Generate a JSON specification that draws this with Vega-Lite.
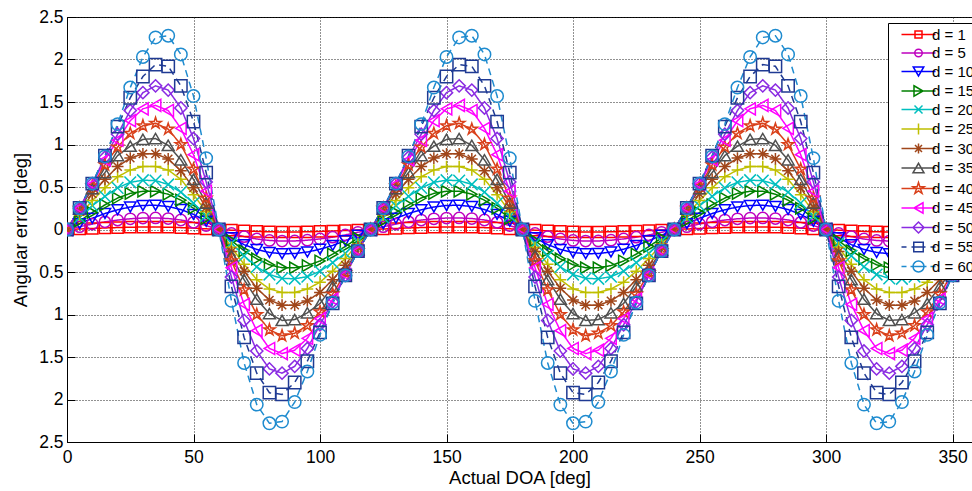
{
"$schema": "https://vega.github.io/schema/vega-lite/v6.json",
"width": 905,
"height": 425,
"autosize": {"type": "none"},
"padding": {"left": 67, "top": 17, "right": 0, "bottom": 49},
"background": "white",
"config": {
  "view": {"stroke": "black", "strokeWidth": 1},
  "font": "Liberation Sans",
  "axis": {"domainColor": "black", "domainWidth": 1, "tickColor": "black", "labelColor": "black", "titleColor": "black", "labelFont": "Liberation Sans", "titleFont": "Liberation Sans", "labelFontSize": 17.5, "titleFontSize": 18.5, "titleFontWeight": "normal", "gridColor": "#222222", "gridDash": [1, 2], "gridOpacity": 1, "gridWidth": 1, "tickSize": -8, "tickWidth": 1}
},
"data": {"values": [
{"x":0,"d":1,"y":0},{"x":5,"d":1,"y":0.006},{"x":10,"d":1,"y":0.012},{"x":15,"d":1,"y":0.018},{"x":20,"d":1,"y":0.023},{"x":25,"d":1,"y":0.027},{"x":30,"d":1,"y":0.029},{"x":35,"d":1,"y":0.029},{"x":40,"d":1,"y":0.027},{"x":45,"d":1,"y":0.022},{"x":50,"d":1,"y":0.016},{"x":55,"d":1,"y":0.008},{"x":60,"d":1,"y":0},{"x":65,"d":1,"y":-0.008},{"x":70,"d":1,"y":-0.016},{"x":75,"d":1,"y":-0.022},{"x":80,"d":1,"y":-0.027},{"x":85,"d":1,"y":-0.029},{"x":90,"d":1,"y":-0.029},{"x":95,"d":1,"y":-0.027},{"x":100,"d":1,"y":-0.023},{"x":105,"d":1,"y":-0.018},{"x":110,"d":1,"y":-0.012},{"x":115,"d":1,"y":-0.006},
{"x":120,"d":1,"y":0},{"x":125,"d":1,"y":0.006},{"x":130,"d":1,"y":0.012},{"x":135,"d":1,"y":0.018},{"x":140,"d":1,"y":0.023},{"x":145,"d":1,"y":0.027},{"x":150,"d":1,"y":0.029},{"x":155,"d":1,"y":0.029},{"x":160,"d":1,"y":0.027},{"x":165,"d":1,"y":0.022},{"x":170,"d":1,"y":0.016},{"x":175,"d":1,"y":0.008},{"x":180,"d":1,"y":0},{"x":185,"d":1,"y":-0.008},{"x":190,"d":1,"y":-0.016},{"x":195,"d":1,"y":-0.022},{"x":200,"d":1,"y":-0.027},{"x":205,"d":1,"y":-0.029},{"x":210,"d":1,"y":-0.029},{"x":215,"d":1,"y":-0.027},{"x":220,"d":1,"y":-0.023},{"x":225,"d":1,"y":-0.018},{"x":230,"d":1,"y":-0.012},{"x":235,"d":1,"y":-0.006},
{"x":240,"d":1,"y":0},{"x":245,"d":1,"y":0.006},{"x":250,"d":1,"y":0.012},{"x":255,"d":1,"y":0.018},{"x":260,"d":1,"y":0.023},{"x":265,"d":1,"y":0.027},{"x":270,"d":1,"y":0.029},{"x":275,"d":1,"y":0.029},{"x":280,"d":1,"y":0.027},{"x":285,"d":1,"y":0.022},{"x":290,"d":1,"y":0.016},{"x":295,"d":1,"y":0.008},{"x":300,"d":1,"y":0},{"x":305,"d":1,"y":-0.008},{"x":310,"d":1,"y":-0.016},{"x":315,"d":1,"y":-0.022},{"x":320,"d":1,"y":-0.027},{"x":325,"d":1,"y":-0.029},{"x":330,"d":1,"y":-0.029},{"x":335,"d":1,"y":-0.027},{"x":340,"d":1,"y":-0.023},{"x":345,"d":1,"y":-0.018},{"x":350,"d":1,"y":-0.012},{"x":355,"d":1,"y":-0.006},{"x":360,"d":1,"y":0},
{"x":0,"d":5,"y":0},{"x":5,"d":5,"y":0.033},{"x":10,"d":5,"y":0.064},{"x":15,"d":5,"y":0.09},{"x":20,"d":5,"y":0.111},{"x":25,"d":5,"y":0.126},{"x":30,"d":5,"y":0.135},{"x":35,"d":5,"y":0.136},{"x":40,"d":5,"y":0.129},{"x":45,"d":5,"y":0.112},{"x":50,"d":5,"y":0.084},{"x":55,"d":5,"y":0.046},{"x":60,"d":5,"y":0},{"x":65,"d":5,"y":-0.046},{"x":70,"d":5,"y":-0.084},{"x":75,"d":5,"y":-0.112},{"x":80,"d":5,"y":-0.129},{"x":85,"d":5,"y":-0.136},{"x":90,"d":5,"y":-0.135},{"x":95,"d":5,"y":-0.126},{"x":100,"d":5,"y":-0.111},{"x":105,"d":5,"y":-0.09},{"x":110,"d":5,"y":-0.064},{"x":115,"d":5,"y":-0.033},
{"x":120,"d":5,"y":0},{"x":125,"d":5,"y":0.033},{"x":130,"d":5,"y":0.064},{"x":135,"d":5,"y":0.09},{"x":140,"d":5,"y":0.111},{"x":145,"d":5,"y":0.126},{"x":150,"d":5,"y":0.135},{"x":155,"d":5,"y":0.136},{"x":160,"d":5,"y":0.129},{"x":165,"d":5,"y":0.112},{"x":170,"d":5,"y":0.084},{"x":175,"d":5,"y":0.046},{"x":180,"d":5,"y":0},{"x":185,"d":5,"y":-0.046},{"x":190,"d":5,"y":-0.084},{"x":195,"d":5,"y":-0.112},{"x":200,"d":5,"y":-0.129},{"x":205,"d":5,"y":-0.136},{"x":210,"d":5,"y":-0.135},{"x":215,"d":5,"y":-0.126},{"x":220,"d":5,"y":-0.111},{"x":225,"d":5,"y":-0.09},{"x":230,"d":5,"y":-0.064},{"x":235,"d":5,"y":-0.033},
{"x":240,"d":5,"y":0},{"x":245,"d":5,"y":0.033},{"x":250,"d":5,"y":0.064},{"x":255,"d":5,"y":0.09},{"x":260,"d":5,"y":0.111},{"x":265,"d":5,"y":0.126},{"x":270,"d":5,"y":0.135},{"x":275,"d":5,"y":0.136},{"x":280,"d":5,"y":0.129},{"x":285,"d":5,"y":0.112},{"x":290,"d":5,"y":0.084},{"x":295,"d":5,"y":0.046},{"x":300,"d":5,"y":0},{"x":305,"d":5,"y":-0.046},{"x":310,"d":5,"y":-0.084},{"x":315,"d":5,"y":-0.112},{"x":320,"d":5,"y":-0.129},{"x":325,"d":5,"y":-0.136},{"x":330,"d":5,"y":-0.135},{"x":335,"d":5,"y":-0.126},{"x":340,"d":5,"y":-0.111},{"x":345,"d":5,"y":-0.09},{"x":350,"d":5,"y":-0.064},{"x":355,"d":5,"y":-0.033},{"x":360,"d":5,"y":0},
{"x":0,"d":10,"y":0},{"x":5,"d":10,"y":0.068},{"x":10,"d":10,"y":0.132},{"x":15,"d":10,"y":0.188},{"x":20,"d":10,"y":0.232},{"x":25,"d":10,"y":0.265},{"x":30,"d":10,"y":0.283},{"x":35,"d":10,"y":0.285},{"x":40,"d":10,"y":0.27},{"x":45,"d":10,"y":0.235},{"x":50,"d":10,"y":0.178},{"x":55,"d":10,"y":0.097},{"x":60,"d":10,"y":0},{"x":65,"d":10,"y":-0.097},{"x":70,"d":10,"y":-0.178},{"x":75,"d":10,"y":-0.235},{"x":80,"d":10,"y":-0.27},{"x":85,"d":10,"y":-0.285},{"x":90,"d":10,"y":-0.283},{"x":95,"d":10,"y":-0.265},{"x":100,"d":10,"y":-0.232},{"x":105,"d":10,"y":-0.188},{"x":110,"d":10,"y":-0.132},{"x":115,"d":10,"y":-0.068},
{"x":120,"d":10,"y":0},{"x":125,"d":10,"y":0.068},{"x":130,"d":10,"y":0.132},{"x":135,"d":10,"y":0.188},{"x":140,"d":10,"y":0.232},{"x":145,"d":10,"y":0.265},{"x":150,"d":10,"y":0.283},{"x":155,"d":10,"y":0.285},{"x":160,"d":10,"y":0.27},{"x":165,"d":10,"y":0.235},{"x":170,"d":10,"y":0.178},{"x":175,"d":10,"y":0.097},{"x":180,"d":10,"y":0},{"x":185,"d":10,"y":-0.097},{"x":190,"d":10,"y":-0.178},{"x":195,"d":10,"y":-0.235},{"x":200,"d":10,"y":-0.27},{"x":205,"d":10,"y":-0.285},{"x":210,"d":10,"y":-0.283},{"x":215,"d":10,"y":-0.265},{"x":220,"d":10,"y":-0.232},{"x":225,"d":10,"y":-0.188},{"x":230,"d":10,"y":-0.132},{"x":235,"d":10,"y":-0.068},
{"x":240,"d":10,"y":0},{"x":245,"d":10,"y":0.068},{"x":250,"d":10,"y":0.132},{"x":255,"d":10,"y":0.188},{"x":260,"d":10,"y":0.232},{"x":265,"d":10,"y":0.265},{"x":270,"d":10,"y":0.283},{"x":275,"d":10,"y":0.285},{"x":280,"d":10,"y":0.27},{"x":285,"d":10,"y":0.235},{"x":290,"d":10,"y":0.178},{"x":295,"d":10,"y":0.097},{"x":300,"d":10,"y":0},{"x":305,"d":10,"y":-0.097},{"x":310,"d":10,"y":-0.178},{"x":315,"d":10,"y":-0.235},{"x":320,"d":10,"y":-0.27},{"x":325,"d":10,"y":-0.285},{"x":330,"d":10,"y":-0.283},{"x":335,"d":10,"y":-0.265},{"x":340,"d":10,"y":-0.232},{"x":345,"d":10,"y":-0.188},{"x":350,"d":10,"y":-0.132},{"x":355,"d":10,"y":-0.068},{"x":360,"d":10,"y":0},
{"x":0,"d":15,"y":0},{"x":5,"d":15,"y":0.1},{"x":10,"d":15,"y":0.2},{"x":15,"d":15,"y":0.29},{"x":20,"d":15,"y":0.37},{"x":25,"d":15,"y":0.425},{"x":30,"d":15,"y":0.45},{"x":35,"d":15,"y":0.45},{"x":40,"d":15,"y":0.415},{"x":45,"d":15,"y":0.345},{"x":50,"d":15,"y":0.25},{"x":55,"d":15,"y":0.13},{"x":60,"d":15,"y":0},{"x":65,"d":15,"y":-0.13},{"x":70,"d":15,"y":-0.25},{"x":75,"d":15,"y":-0.345},{"x":80,"d":15,"y":-0.415},{"x":85,"d":15,"y":-0.45},{"x":90,"d":15,"y":-0.45},{"x":95,"d":15,"y":-0.425},{"x":100,"d":15,"y":-0.37},{"x":105,"d":15,"y":-0.29},{"x":110,"d":15,"y":-0.2},{"x":115,"d":15,"y":-0.1},
{"x":120,"d":15,"y":0},{"x":125,"d":15,"y":0.1},{"x":130,"d":15,"y":0.2},{"x":135,"d":15,"y":0.29},{"x":140,"d":15,"y":0.37},{"x":145,"d":15,"y":0.425},{"x":150,"d":15,"y":0.45},{"x":155,"d":15,"y":0.45},{"x":160,"d":15,"y":0.415},{"x":165,"d":15,"y":0.345},{"x":170,"d":15,"y":0.25},{"x":175,"d":15,"y":0.13},{"x":180,"d":15,"y":0},{"x":185,"d":15,"y":-0.13},{"x":190,"d":15,"y":-0.25},{"x":195,"d":15,"y":-0.345},{"x":200,"d":15,"y":-0.415},{"x":205,"d":15,"y":-0.45},{"x":210,"d":15,"y":-0.45},{"x":215,"d":15,"y":-0.425},{"x":220,"d":15,"y":-0.37},{"x":225,"d":15,"y":-0.29},{"x":230,"d":15,"y":-0.2},{"x":235,"d":15,"y":-0.1},
{"x":240,"d":15,"y":0},{"x":245,"d":15,"y":0.1},{"x":250,"d":15,"y":0.2},{"x":255,"d":15,"y":0.29},{"x":260,"d":15,"y":0.37},{"x":265,"d":15,"y":0.425},{"x":270,"d":15,"y":0.45},{"x":275,"d":15,"y":0.45},{"x":280,"d":15,"y":0.415},{"x":285,"d":15,"y":0.345},{"x":290,"d":15,"y":0.25},{"x":295,"d":15,"y":0.13},{"x":300,"d":15,"y":0},{"x":305,"d":15,"y":-0.13},{"x":310,"d":15,"y":-0.25},{"x":315,"d":15,"y":-0.345},{"x":320,"d":15,"y":-0.415},{"x":325,"d":15,"y":-0.45},{"x":330,"d":15,"y":-0.45},{"x":335,"d":15,"y":-0.425},{"x":340,"d":15,"y":-0.37},{"x":345,"d":15,"y":-0.29},{"x":350,"d":15,"y":-0.2},{"x":355,"d":15,"y":-0.1},{"x":360,"d":15,"y":0},
{"x":0,"d":20,"y":0},{"x":5,"d":20,"y":0.14},{"x":10,"d":20,"y":0.28},{"x":15,"d":20,"y":0.39},{"x":20,"d":20,"y":0.49},{"x":25,"d":20,"y":0.555},{"x":30,"d":20,"y":0.58},{"x":35,"d":20,"y":0.575},{"x":40,"d":20,"y":0.53},{"x":45,"d":20,"y":0.44},{"x":50,"d":20,"y":0.31},{"x":55,"d":20,"y":0.16},{"x":60,"d":20,"y":0},{"x":65,"d":20,"y":-0.16},{"x":70,"d":20,"y":-0.31},{"x":75,"d":20,"y":-0.44},{"x":80,"d":20,"y":-0.53},{"x":85,"d":20,"y":-0.575},{"x":90,"d":20,"y":-0.58},{"x":95,"d":20,"y":-0.555},{"x":100,"d":20,"y":-0.49},{"x":105,"d":20,"y":-0.39},{"x":110,"d":20,"y":-0.28},{"x":115,"d":20,"y":-0.14},
{"x":120,"d":20,"y":0},{"x":125,"d":20,"y":0.14},{"x":130,"d":20,"y":0.28},{"x":135,"d":20,"y":0.39},{"x":140,"d":20,"y":0.49},{"x":145,"d":20,"y":0.555},{"x":150,"d":20,"y":0.58},{"x":155,"d":20,"y":0.575},{"x":160,"d":20,"y":0.53},{"x":165,"d":20,"y":0.44},{"x":170,"d":20,"y":0.31},{"x":175,"d":20,"y":0.16},{"x":180,"d":20,"y":0},{"x":185,"d":20,"y":-0.16},{"x":190,"d":20,"y":-0.31},{"x":195,"d":20,"y":-0.44},{"x":200,"d":20,"y":-0.53},{"x":205,"d":20,"y":-0.575},{"x":210,"d":20,"y":-0.58},{"x":215,"d":20,"y":-0.555},{"x":220,"d":20,"y":-0.49},{"x":225,"d":20,"y":-0.39},{"x":230,"d":20,"y":-0.28},{"x":235,"d":20,"y":-0.14},
{"x":240,"d":20,"y":0},{"x":245,"d":20,"y":0.14},{"x":250,"d":20,"y":0.28},{"x":255,"d":20,"y":0.39},{"x":260,"d":20,"y":0.49},{"x":265,"d":20,"y":0.555},{"x":270,"d":20,"y":0.58},{"x":275,"d":20,"y":0.575},{"x":280,"d":20,"y":0.53},{"x":285,"d":20,"y":0.44},{"x":290,"d":20,"y":0.31},{"x":295,"d":20,"y":0.16},{"x":300,"d":20,"y":0},{"x":305,"d":20,"y":-0.16},{"x":310,"d":20,"y":-0.31},{"x":315,"d":20,"y":-0.44},{"x":320,"d":20,"y":-0.53},{"x":325,"d":20,"y":-0.575},{"x":330,"d":20,"y":-0.58},{"x":335,"d":20,"y":-0.555},{"x":340,"d":20,"y":-0.49},{"x":345,"d":20,"y":-0.39},{"x":350,"d":20,"y":-0.28},{"x":355,"d":20,"y":-0.14},{"x":360,"d":20,"y":0},
{"x":0,"d":25,"y":0},{"x":5,"d":25,"y":0.17},{"x":10,"d":25,"y":0.34},{"x":15,"d":25,"y":0.49},{"x":20,"d":25,"y":0.62},{"x":25,"d":25,"y":0.7},{"x":30,"d":25,"y":0.74},{"x":35,"d":25,"y":0.74},{"x":40,"d":25,"y":0.7},{"x":45,"d":25,"y":0.59},{"x":50,"d":25,"y":0.41},{"x":55,"d":25,"y":0.21},{"x":60,"d":25,"y":0},{"x":65,"d":25,"y":-0.21},{"x":70,"d":25,"y":-0.41},{"x":75,"d":25,"y":-0.59},{"x":80,"d":25,"y":-0.7},{"x":85,"d":25,"y":-0.74},{"x":90,"d":25,"y":-0.74},{"x":95,"d":25,"y":-0.7},{"x":100,"d":25,"y":-0.62},{"x":105,"d":25,"y":-0.49},{"x":110,"d":25,"y":-0.34},{"x":115,"d":25,"y":-0.17},
{"x":120,"d":25,"y":0},{"x":125,"d":25,"y":0.17},{"x":130,"d":25,"y":0.34},{"x":135,"d":25,"y":0.49},{"x":140,"d":25,"y":0.62},{"x":145,"d":25,"y":0.7},{"x":150,"d":25,"y":0.74},{"x":155,"d":25,"y":0.74},{"x":160,"d":25,"y":0.7},{"x":165,"d":25,"y":0.59},{"x":170,"d":25,"y":0.41},{"x":175,"d":25,"y":0.21},{"x":180,"d":25,"y":0},{"x":185,"d":25,"y":-0.21},{"x":190,"d":25,"y":-0.41},{"x":195,"d":25,"y":-0.59},{"x":200,"d":25,"y":-0.7},{"x":205,"d":25,"y":-0.74},{"x":210,"d":25,"y":-0.74},{"x":215,"d":25,"y":-0.7},{"x":220,"d":25,"y":-0.62},{"x":225,"d":25,"y":-0.49},{"x":230,"d":25,"y":-0.34},{"x":235,"d":25,"y":-0.17},
{"x":240,"d":25,"y":0},{"x":245,"d":25,"y":0.17},{"x":250,"d":25,"y":0.34},{"x":255,"d":25,"y":0.49},{"x":260,"d":25,"y":0.62},{"x":265,"d":25,"y":0.7},{"x":270,"d":25,"y":0.74},{"x":275,"d":25,"y":0.74},{"x":280,"d":25,"y":0.7},{"x":285,"d":25,"y":0.59},{"x":290,"d":25,"y":0.41},{"x":295,"d":25,"y":0.21},{"x":300,"d":25,"y":0},{"x":305,"d":25,"y":-0.21},{"x":310,"d":25,"y":-0.41},{"x":315,"d":25,"y":-0.59},{"x":320,"d":25,"y":-0.7},{"x":325,"d":25,"y":-0.74},{"x":330,"d":25,"y":-0.74},{"x":335,"d":25,"y":-0.7},{"x":340,"d":25,"y":-0.62},{"x":345,"d":25,"y":-0.49},{"x":350,"d":25,"y":-0.34},{"x":355,"d":25,"y":-0.17},{"x":360,"d":25,"y":0},
{"x":0,"d":30,"y":0},{"x":5,"d":30,"y":0.21},{"x":10,"d":30,"y":0.42},{"x":15,"d":30,"y":0.59},{"x":20,"d":30,"y":0.74},{"x":25,"d":30,"y":0.84},{"x":30,"d":30,"y":0.89},{"x":35,"d":30,"y":0.89},{"x":40,"d":30,"y":0.83},{"x":45,"d":30,"y":0.69},{"x":50,"d":30,"y":0.49},{"x":55,"d":30,"y":0.26},{"x":60,"d":30,"y":0},{"x":65,"d":30,"y":-0.26},{"x":70,"d":30,"y":-0.49},{"x":75,"d":30,"y":-0.69},{"x":80,"d":30,"y":-0.83},{"x":85,"d":30,"y":-0.89},{"x":90,"d":30,"y":-0.89},{"x":95,"d":30,"y":-0.84},{"x":100,"d":30,"y":-0.74},{"x":105,"d":30,"y":-0.59},{"x":110,"d":30,"y":-0.42},{"x":115,"d":30,"y":-0.21},
{"x":120,"d":30,"y":0},{"x":125,"d":30,"y":0.21},{"x":130,"d":30,"y":0.42},{"x":135,"d":30,"y":0.59},{"x":140,"d":30,"y":0.74},{"x":145,"d":30,"y":0.84},{"x":150,"d":30,"y":0.89},{"x":155,"d":30,"y":0.89},{"x":160,"d":30,"y":0.83},{"x":165,"d":30,"y":0.69},{"x":170,"d":30,"y":0.49},{"x":175,"d":30,"y":0.26},{"x":180,"d":30,"y":0},{"x":185,"d":30,"y":-0.26},{"x":190,"d":30,"y":-0.49},{"x":195,"d":30,"y":-0.69},{"x":200,"d":30,"y":-0.83},{"x":205,"d":30,"y":-0.89},{"x":210,"d":30,"y":-0.89},{"x":215,"d":30,"y":-0.84},{"x":220,"d":30,"y":-0.74},{"x":225,"d":30,"y":-0.59},{"x":230,"d":30,"y":-0.42},{"x":235,"d":30,"y":-0.21},
{"x":240,"d":30,"y":0},{"x":245,"d":30,"y":0.21},{"x":250,"d":30,"y":0.42},{"x":255,"d":30,"y":0.59},{"x":260,"d":30,"y":0.74},{"x":265,"d":30,"y":0.84},{"x":270,"d":30,"y":0.89},{"x":275,"d":30,"y":0.89},{"x":280,"d":30,"y":0.83},{"x":285,"d":30,"y":0.69},{"x":290,"d":30,"y":0.49},{"x":295,"d":30,"y":0.26},{"x":300,"d":30,"y":0},{"x":305,"d":30,"y":-0.26},{"x":310,"d":30,"y":-0.49},{"x":315,"d":30,"y":-0.69},{"x":320,"d":30,"y":-0.83},{"x":325,"d":30,"y":-0.89},{"x":330,"d":30,"y":-0.89},{"x":335,"d":30,"y":-0.84},{"x":340,"d":30,"y":-0.74},{"x":345,"d":30,"y":-0.59},{"x":350,"d":30,"y":-0.42},{"x":355,"d":30,"y":-0.21},{"x":360,"d":30,"y":0},
{"x":0,"d":35,"y":0},{"x":5,"d":35,"y":0.24},{"x":10,"d":35,"y":0.48},{"x":15,"d":35,"y":0.67},{"x":20,"d":35,"y":0.87},{"x":25,"d":35,"y":0.98},{"x":30,"d":35,"y":1.06},{"x":35,"d":35,"y":1.07},{"x":40,"d":35,"y":0.99},{"x":45,"d":35,"y":0.82},{"x":50,"d":35,"y":0.59},{"x":55,"d":35,"y":0.31},{"x":60,"d":35,"y":0},{"x":65,"d":35,"y":-0.31},{"x":70,"d":35,"y":-0.59},{"x":75,"d":35,"y":-0.82},{"x":80,"d":35,"y":-0.99},{"x":85,"d":35,"y":-1.07},{"x":90,"d":35,"y":-1.06},{"x":95,"d":35,"y":-0.98},{"x":100,"d":35,"y":-0.87},{"x":105,"d":35,"y":-0.67},{"x":110,"d":35,"y":-0.48},{"x":115,"d":35,"y":-0.24},
{"x":120,"d":35,"y":0},{"x":125,"d":35,"y":0.24},{"x":130,"d":35,"y":0.48},{"x":135,"d":35,"y":0.67},{"x":140,"d":35,"y":0.87},{"x":145,"d":35,"y":0.98},{"x":150,"d":35,"y":1.06},{"x":155,"d":35,"y":1.07},{"x":160,"d":35,"y":0.99},{"x":165,"d":35,"y":0.82},{"x":170,"d":35,"y":0.59},{"x":175,"d":35,"y":0.31},{"x":180,"d":35,"y":0},{"x":185,"d":35,"y":-0.31},{"x":190,"d":35,"y":-0.59},{"x":195,"d":35,"y":-0.82},{"x":200,"d":35,"y":-0.99},{"x":205,"d":35,"y":-1.07},{"x":210,"d":35,"y":-1.06},{"x":215,"d":35,"y":-0.98},{"x":220,"d":35,"y":-0.87},{"x":225,"d":35,"y":-0.67},{"x":230,"d":35,"y":-0.48},{"x":235,"d":35,"y":-0.24},
{"x":240,"d":35,"y":0},{"x":245,"d":35,"y":0.24},{"x":250,"d":35,"y":0.48},{"x":255,"d":35,"y":0.67},{"x":260,"d":35,"y":0.87},{"x":265,"d":35,"y":0.98},{"x":270,"d":35,"y":1.06},{"x":275,"d":35,"y":1.07},{"x":280,"d":35,"y":0.99},{"x":285,"d":35,"y":0.82},{"x":290,"d":35,"y":0.59},{"x":295,"d":35,"y":0.31},{"x":300,"d":35,"y":0},{"x":305,"d":35,"y":-0.31},{"x":310,"d":35,"y":-0.59},{"x":315,"d":35,"y":-0.82},{"x":320,"d":35,"y":-0.99},{"x":325,"d":35,"y":-1.07},{"x":330,"d":35,"y":-1.06},{"x":335,"d":35,"y":-0.98},{"x":340,"d":35,"y":-0.87},{"x":345,"d":35,"y":-0.67},{"x":350,"d":35,"y":-0.48},{"x":355,"d":35,"y":-0.24},{"x":360,"d":35,"y":0},
{"x":0,"d":40,"y":0},{"x":5,"d":40,"y":0.25},{"x":10,"d":40,"y":0.51},{"x":15,"d":40,"y":0.76},{"x":20,"d":40,"y":0.97},{"x":25,"d":40,"y":1.13},{"x":30,"d":40,"y":1.22},{"x":35,"d":40,"y":1.25},{"x":40,"d":40,"y":1.18},{"x":45,"d":40,"y":1},{"x":50,"d":40,"y":0.71},{"x":55,"d":40,"y":0.37},{"x":60,"d":40,"y":0},{"x":65,"d":40,"y":-0.37},{"x":70,"d":40,"y":-0.71},{"x":75,"d":40,"y":-1},{"x":80,"d":40,"y":-1.18},{"x":85,"d":40,"y":-1.25},{"x":90,"d":40,"y":-1.22},{"x":95,"d":40,"y":-1.13},{"x":100,"d":40,"y":-0.97},{"x":105,"d":40,"y":-0.76},{"x":110,"d":40,"y":-0.51},{"x":115,"d":40,"y":-0.25},
{"x":120,"d":40,"y":0},{"x":125,"d":40,"y":0.25},{"x":130,"d":40,"y":0.51},{"x":135,"d":40,"y":0.76},{"x":140,"d":40,"y":0.97},{"x":145,"d":40,"y":1.13},{"x":150,"d":40,"y":1.22},{"x":155,"d":40,"y":1.25},{"x":160,"d":40,"y":1.18},{"x":165,"d":40,"y":1},{"x":170,"d":40,"y":0.71},{"x":175,"d":40,"y":0.37},{"x":180,"d":40,"y":0},{"x":185,"d":40,"y":-0.37},{"x":190,"d":40,"y":-0.71},{"x":195,"d":40,"y":-1},{"x":200,"d":40,"y":-1.18},{"x":205,"d":40,"y":-1.25},{"x":210,"d":40,"y":-1.22},{"x":215,"d":40,"y":-1.13},{"x":220,"d":40,"y":-0.97},{"x":225,"d":40,"y":-0.76},{"x":230,"d":40,"y":-0.51},{"x":235,"d":40,"y":-0.25},
{"x":240,"d":40,"y":0},{"x":245,"d":40,"y":0.25},{"x":250,"d":40,"y":0.51},{"x":255,"d":40,"y":0.76},{"x":260,"d":40,"y":0.97},{"x":265,"d":40,"y":1.13},{"x":270,"d":40,"y":1.22},{"x":275,"d":40,"y":1.25},{"x":280,"d":40,"y":1.18},{"x":285,"d":40,"y":1},{"x":290,"d":40,"y":0.71},{"x":295,"d":40,"y":0.37},{"x":300,"d":40,"y":0},{"x":305,"d":40,"y":-0.37},{"x":310,"d":40,"y":-0.71},{"x":315,"d":40,"y":-1},{"x":320,"d":40,"y":-1.18},{"x":325,"d":40,"y":-1.25},{"x":330,"d":40,"y":-1.22},{"x":335,"d":40,"y":-1.13},{"x":340,"d":40,"y":-0.97},{"x":345,"d":40,"y":-0.76},{"x":350,"d":40,"y":-0.51},{"x":355,"d":40,"y":-0.25},{"x":360,"d":40,"y":0},
{"x":0,"d":45,"y":0},{"x":5,"d":45,"y":0.25},{"x":10,"d":45,"y":0.53},{"x":15,"d":45,"y":0.82},{"x":20,"d":45,"y":1.05},{"x":25,"d":45,"y":1.28},{"x":30,"d":45,"y":1.42},{"x":35,"d":45,"y":1.46},{"x":40,"d":45,"y":1.4},{"x":45,"d":45,"y":1.19},{"x":50,"d":45,"y":0.88},{"x":55,"d":45,"y":0.45},{"x":60,"d":45,"y":0},{"x":65,"d":45,"y":-0.45},{"x":70,"d":45,"y":-0.88},{"x":75,"d":45,"y":-1.19},{"x":80,"d":45,"y":-1.4},{"x":85,"d":45,"y":-1.46},{"x":90,"d":45,"y":-1.42},{"x":95,"d":45,"y":-1.28},{"x":100,"d":45,"y":-1.05},{"x":105,"d":45,"y":-0.82},{"x":110,"d":45,"y":-0.53},{"x":115,"d":45,"y":-0.25},
{"x":120,"d":45,"y":0},{"x":125,"d":45,"y":0.25},{"x":130,"d":45,"y":0.53},{"x":135,"d":45,"y":0.82},{"x":140,"d":45,"y":1.05},{"x":145,"d":45,"y":1.28},{"x":150,"d":45,"y":1.42},{"x":155,"d":45,"y":1.46},{"x":160,"d":45,"y":1.4},{"x":165,"d":45,"y":1.19},{"x":170,"d":45,"y":0.88},{"x":175,"d":45,"y":0.45},{"x":180,"d":45,"y":0},{"x":185,"d":45,"y":-0.45},{"x":190,"d":45,"y":-0.88},{"x":195,"d":45,"y":-1.19},{"x":200,"d":45,"y":-1.4},{"x":205,"d":45,"y":-1.46},{"x":210,"d":45,"y":-1.42},{"x":215,"d":45,"y":-1.28},{"x":220,"d":45,"y":-1.05},{"x":225,"d":45,"y":-0.82},{"x":230,"d":45,"y":-0.53},{"x":235,"d":45,"y":-0.25},
{"x":240,"d":45,"y":0},{"x":245,"d":45,"y":0.25},{"x":250,"d":45,"y":0.53},{"x":255,"d":45,"y":0.82},{"x":260,"d":45,"y":1.05},{"x":265,"d":45,"y":1.28},{"x":270,"d":45,"y":1.42},{"x":275,"d":45,"y":1.46},{"x":280,"d":45,"y":1.4},{"x":285,"d":45,"y":1.19},{"x":290,"d":45,"y":0.88},{"x":295,"d":45,"y":0.45},{"x":300,"d":45,"y":0},{"x":305,"d":45,"y":-0.45},{"x":310,"d":45,"y":-0.88},{"x":315,"d":45,"y":-1.19},{"x":320,"d":45,"y":-1.4},{"x":325,"d":45,"y":-1.46},{"x":330,"d":45,"y":-1.42},{"x":335,"d":45,"y":-1.28},{"x":340,"d":45,"y":-1.05},{"x":345,"d":45,"y":-0.82},{"x":350,"d":45,"y":-0.53},{"x":355,"d":45,"y":-0.25},{"x":360,"d":45,"y":0},
{"x":0,"d":50,"y":0},{"x":5,"d":50,"y":0.25},{"x":10,"d":50,"y":0.54},{"x":15,"d":50,"y":0.85},{"x":20,"d":50,"y":1.12},{"x":25,"d":50,"y":1.4},{"x":30,"d":50,"y":1.61},{"x":35,"d":50,"y":1.69},{"x":40,"d":50,"y":1.64},{"x":45,"d":50,"y":1.43},{"x":50,"d":50,"y":1.07},{"x":55,"d":50,"y":0.56},{"x":60,"d":50,"y":0},{"x":65,"d":50,"y":-0.56},{"x":70,"d":50,"y":-1.07},{"x":75,"d":50,"y":-1.43},{"x":80,"d":50,"y":-1.64},{"x":85,"d":50,"y":-1.69},{"x":90,"d":50,"y":-1.61},{"x":95,"d":50,"y":-1.4},{"x":100,"d":50,"y":-1.12},{"x":105,"d":50,"y":-0.85},{"x":110,"d":50,"y":-0.54},{"x":115,"d":50,"y":-0.25},
{"x":120,"d":50,"y":0},{"x":125,"d":50,"y":0.25},{"x":130,"d":50,"y":0.54},{"x":135,"d":50,"y":0.85},{"x":140,"d":50,"y":1.12},{"x":145,"d":50,"y":1.4},{"x":150,"d":50,"y":1.61},{"x":155,"d":50,"y":1.69},{"x":160,"d":50,"y":1.64},{"x":165,"d":50,"y":1.43},{"x":170,"d":50,"y":1.07},{"x":175,"d":50,"y":0.56},{"x":180,"d":50,"y":0},{"x":185,"d":50,"y":-0.56},{"x":190,"d":50,"y":-1.07},{"x":195,"d":50,"y":-1.43},{"x":200,"d":50,"y":-1.64},{"x":205,"d":50,"y":-1.69},{"x":210,"d":50,"y":-1.61},{"x":215,"d":50,"y":-1.4},{"x":220,"d":50,"y":-1.12},{"x":225,"d":50,"y":-0.85},{"x":230,"d":50,"y":-0.54},{"x":235,"d":50,"y":-0.25},
{"x":240,"d":50,"y":0},{"x":245,"d":50,"y":0.25},{"x":250,"d":50,"y":0.54},{"x":255,"d":50,"y":0.85},{"x":260,"d":50,"y":1.12},{"x":265,"d":50,"y":1.4},{"x":270,"d":50,"y":1.61},{"x":275,"d":50,"y":1.69},{"x":280,"d":50,"y":1.64},{"x":285,"d":50,"y":1.43},{"x":290,"d":50,"y":1.07},{"x":295,"d":50,"y":0.56},{"x":300,"d":50,"y":0},{"x":305,"d":50,"y":-0.56},{"x":310,"d":50,"y":-1.07},{"x":315,"d":50,"y":-1.43},{"x":320,"d":50,"y":-1.64},{"x":325,"d":50,"y":-1.69},{"x":330,"d":50,"y":-1.61},{"x":335,"d":50,"y":-1.4},{"x":340,"d":50,"y":-1.12},{"x":345,"d":50,"y":-0.85},{"x":350,"d":50,"y":-0.54},{"x":355,"d":50,"y":-0.25},{"x":360,"d":50,"y":0},
{"x":0,"d":55,"y":0},{"x":5,"d":55,"y":0.255},{"x":10,"d":55,"y":0.54},{"x":15,"d":55,"y":0.87},{"x":20,"d":55,"y":1.21},{"x":25,"d":55,"y":1.55},{"x":30,"d":55,"y":1.8},{"x":35,"d":55,"y":1.94},{"x":40,"d":55,"y":1.92},{"x":45,"d":55,"y":1.69},{"x":50,"d":55,"y":1.27},{"x":55,"d":55,"y":0.67},{"x":60,"d":55,"y":0},{"x":65,"d":55,"y":-0.67},{"x":70,"d":55,"y":-1.27},{"x":75,"d":55,"y":-1.69},{"x":80,"d":55,"y":-1.92},{"x":85,"d":55,"y":-1.94},{"x":90,"d":55,"y":-1.8},{"x":95,"d":55,"y":-1.55},{"x":100,"d":55,"y":-1.21},{"x":105,"d":55,"y":-0.87},{"x":110,"d":55,"y":-0.54},{"x":115,"d":55,"y":-0.255},
{"x":120,"d":55,"y":0},{"x":125,"d":55,"y":0.255},{"x":130,"d":55,"y":0.54},{"x":135,"d":55,"y":0.87},{"x":140,"d":55,"y":1.21},{"x":145,"d":55,"y":1.55},{"x":150,"d":55,"y":1.8},{"x":155,"d":55,"y":1.94},{"x":160,"d":55,"y":1.92},{"x":165,"d":55,"y":1.69},{"x":170,"d":55,"y":1.27},{"x":175,"d":55,"y":0.67},{"x":180,"d":55,"y":0},{"x":185,"d":55,"y":-0.67},{"x":190,"d":55,"y":-1.27},{"x":195,"d":55,"y":-1.69},{"x":200,"d":55,"y":-1.92},{"x":205,"d":55,"y":-1.94},{"x":210,"d":55,"y":-1.8},{"x":215,"d":55,"y":-1.55},{"x":220,"d":55,"y":-1.21},{"x":225,"d":55,"y":-0.87},{"x":230,"d":55,"y":-0.54},{"x":235,"d":55,"y":-0.255},
{"x":240,"d":55,"y":0},{"x":245,"d":55,"y":0.255},{"x":250,"d":55,"y":0.54},{"x":255,"d":55,"y":0.87},{"x":260,"d":55,"y":1.21},{"x":265,"d":55,"y":1.55},{"x":270,"d":55,"y":1.8},{"x":275,"d":55,"y":1.94},{"x":280,"d":55,"y":1.92},{"x":285,"d":55,"y":1.69},{"x":290,"d":55,"y":1.27},{"x":295,"d":55,"y":0.67},{"x":300,"d":55,"y":0},{"x":305,"d":55,"y":-0.67},{"x":310,"d":55,"y":-1.27},{"x":315,"d":55,"y":-1.69},{"x":320,"d":55,"y":-1.92},{"x":325,"d":55,"y":-1.94},{"x":330,"d":55,"y":-1.8},{"x":335,"d":55,"y":-1.55},{"x":340,"d":55,"y":-1.21},{"x":345,"d":55,"y":-0.87},{"x":350,"d":55,"y":-0.54},{"x":355,"d":55,"y":-0.255},{"x":360,"d":55,"y":0},
{"x":0,"d":60,"y":0},{"x":5,"d":60,"y":0.25},{"x":10,"d":60,"y":0.54},{"x":15,"d":60,"y":0.86},{"x":20,"d":60,"y":1.24},{"x":25,"d":60,"y":1.67},{"x":30,"d":60,"y":2.03},{"x":35,"d":60,"y":2.26},{"x":40,"d":60,"y":2.28},{"x":45,"d":60,"y":2.06},{"x":50,"d":60,"y":1.57},{"x":55,"d":60,"y":0.84},{"x":60,"d":60,"y":0},{"x":65,"d":60,"y":-0.84},{"x":70,"d":60,"y":-1.57},{"x":75,"d":60,"y":-2.06},{"x":80,"d":60,"y":-2.28},{"x":85,"d":60,"y":-2.26},{"x":90,"d":60,"y":-2.03},{"x":95,"d":60,"y":-1.67},{"x":100,"d":60,"y":-1.24},{"x":105,"d":60,"y":-0.86},{"x":110,"d":60,"y":-0.54},{"x":115,"d":60,"y":-0.25},
{"x":120,"d":60,"y":0},{"x":125,"d":60,"y":0.25},{"x":130,"d":60,"y":0.54},{"x":135,"d":60,"y":0.86},{"x":140,"d":60,"y":1.24},{"x":145,"d":60,"y":1.67},{"x":150,"d":60,"y":2.03},{"x":155,"d":60,"y":2.26},{"x":160,"d":60,"y":2.28},{"x":165,"d":60,"y":2.06},{"x":170,"d":60,"y":1.57},{"x":175,"d":60,"y":0.84},{"x":180,"d":60,"y":0},{"x":185,"d":60,"y":-0.84},{"x":190,"d":60,"y":-1.57},{"x":195,"d":60,"y":-2.06},{"x":200,"d":60,"y":-2.28},{"x":205,"d":60,"y":-2.26},{"x":210,"d":60,"y":-2.03},{"x":215,"d":60,"y":-1.67},{"x":220,"d":60,"y":-1.24},{"x":225,"d":60,"y":-0.86},{"x":230,"d":60,"y":-0.54},{"x":235,"d":60,"y":-0.25},
{"x":240,"d":60,"y":0},{"x":245,"d":60,"y":0.25},{"x":250,"d":60,"y":0.54},{"x":255,"d":60,"y":0.86},{"x":260,"d":60,"y":1.24},{"x":265,"d":60,"y":1.67},{"x":270,"d":60,"y":2.03},{"x":275,"d":60,"y":2.26},{"x":280,"d":60,"y":2.28},{"x":285,"d":60,"y":2.06},{"x":290,"d":60,"y":1.57},{"x":295,"d":60,"y":0.84},{"x":300,"d":60,"y":0},{"x":305,"d":60,"y":-0.84},{"x":310,"d":60,"y":-1.57},{"x":315,"d":60,"y":-2.06},{"x":320,"d":60,"y":-2.28},{"x":325,"d":60,"y":-2.26},{"x":330,"d":60,"y":-2.03},{"x":335,"d":60,"y":-1.67},{"x":340,"d":60,"y":-1.24},{"x":345,"d":60,"y":-0.86},{"x":350,"d":60,"y":-0.54},{"x":355,"d":60,"y":-0.25},{"x":360,"d":60,"y":0}
]},
"encoding": {
  "x": {"field": "x", "type": "quantitative", "scale": {"domain": [0, 357.7], "nice": false, "zero": false},
        "axis": {"values": [0, 50, 100, 150, 200, 250, 300, 350], "title": "Actual DOA [deg]", "grid": true, "labelPadding": 14, "titlePadding": 3, "labelFlush": false, "labelOverlap": false}},
  "y": {"field": "y", "type": "quantitative", "scale": {"domain": [-2.5, 2.5], "nice": false, "zero": false},
        "axis": {"values": [-2.5, -2, -1.5, -1, -0.5, 0, 0.5, 1, 1.5, 2, 2.5], "title": "Angular error [deg]", "grid": true, "labelPadding": 12, "titlePadding": 8, "labelFlush": false, "labelOverlap": false, "labelExpr": "format(abs(datum.value), '~g')"}},
  "color": {"field": "d", "type": "nominal",
    "scale": {"domain": [1, 5, 10, 15, 20, 25, 30, 35, 40, 45, 50, 55, 60],
              "range": ["#FF0000", "#BF00BF", "#0000FF", "#008000", "#00BFBF", "#BFBF00", "#A0461A", "#505050", "#D9401A", "#FF00FF", "#8A2BE2", "#1F3A93", "#1E8BCF"]},
    "legend": {"orient": "none", "legendX": 821, "legendY": 6, "title": null,
      "strokeColor": "black", "fillColor": "white", "padding": 4, "cornerRadius": 0,
      "symbolSize": 100, "symbolStrokeWidth": 1.5, "symbolOffset": 19, "symbolFillColor": "transparent", "symbolOpacity": 1,
      "labelOffset": 6, "labelFontSize": 15, "labelFont": "Liberation Sans", "labelColor": "black", "labelLimit": 200,
      "rowPadding": 2.5,
      "labelExpr": "'d = ' + datum.value",
      "symbolType": {"expr": "['M-3.4,0H3.4M-0.7,-0.7H0.7V0.7H-0.7Z','M-3.4,0H3.4M-0.75,0A0.75,0.75,0,1,0,0.75,0A0.75,0.75,0,1,0,-0.75,0Z','M-3.4,0H3.4M-1.05,-0.9H1.05L0,0.9Z','M-3.4,0H3.4M-0.9,-1.05L0.9,0L-0.9,1.05Z','M-3.4,0H3.4M-0.8,-0.8L0.8,0.8M-0.8,0.8L0.8,-0.8','M-3.4,0H3.4M0,-1.1V1.1','M-3.4,0H3.4M0,-1V1M-0.7,-0.7L0.7,0.7M-0.7,0.7L0.7,-0.7','M-3.4,0H3.4M-1.1,0.95H1.1L0,-0.95Z','M-3.4,0H3.4M0,-1.2L0.27,-0.37L1.14,-0.37L0.43,0.14L0.71,0.97L0,0.46L-0.71,0.97L-0.43,0.14L-1.14,-0.37L-0.27,-0.37Z','M-3.4,0H3.4M0.9,-1.05L-0.9,0L0.9,1.05Z','M-3.4,0H3.4M-1.1,0L0,-1.1L1.1,0L0,1.1Z','M-3.4,0H-2.4M-1.4,0H1.4M2.4,0H3.4M-0.95,-0.95H0.95V0.95H-0.95Z','M-3.4,0H-2.4M-1.6,0H1.6M2.4,0H3.4M-1.1,0A1.1,1.1,0,1,0,1.1,0A1.1,1.1,0,1,0,-1.1,0Z'][indexof([1,5,10,15,20,25,30,35,40,45,50,55,60], datum.value)]"}
    }
  }
},
"layer": [
  {"mark": {"type": "line", "strokeWidth": 1.5, "clip": true},
   "encoding": {"strokeDash": {"field": "d", "type": "nominal", "legend": null,
     "scale": {"domain": [60, 55, 50, 45, 40, 35, 30, 25, 20, 15, 10, 5, 1],
               "range": [[7,5],[7,5],[1,0],[1,0],[1,0],[1,0],[1,0],[1,0],[1,0],[1,0],[1,0],[1,0],[1,0]]}}}},
  {"mark": {"type": "point", "filled": false, "strokeWidth": 1.5, "opacity": 1, "clip": true},
   "encoding": {
     "shape": {"field": "d", "type": "nominal", "legend": null,
       "scale": {"domain": [60, 55, 50, 45, 40, 35, 30, 25, 20, 15, 10, 5, 1],
                 "range": ["circle", "square", "diamond", "triangle-left", "M0,-1L0.223,-0.307L0.951,-0.309L0.361,0.117L0.588,0.809L0,0.38L-0.588,0.809L-0.361,0.117L-0.951,-0.309L-0.223,-0.307Z", "triangle-up", "M-1,0H1M0,-1V1M-0.7,-0.7L0.7,0.7M-0.7,0.7L0.7,-0.7", "M-1,0H1M0,-1V1", "M-1,-1L1,1M-1,1L1,-1", "triangle-right", "triangle-down", "circle", "square"]}},
     "size": {"field": "d", "type": "nominal", "legend": null,
       "scale": {"domain": [60, 55, 50, 45, 40, 35, 30, 25, 20, 15, 10, 5, 1],
                 "range": [155, 125, 140, 140, 170, 140, 115, 140, 81, 130, 120, 64, 56]}}
   }}
]
}
